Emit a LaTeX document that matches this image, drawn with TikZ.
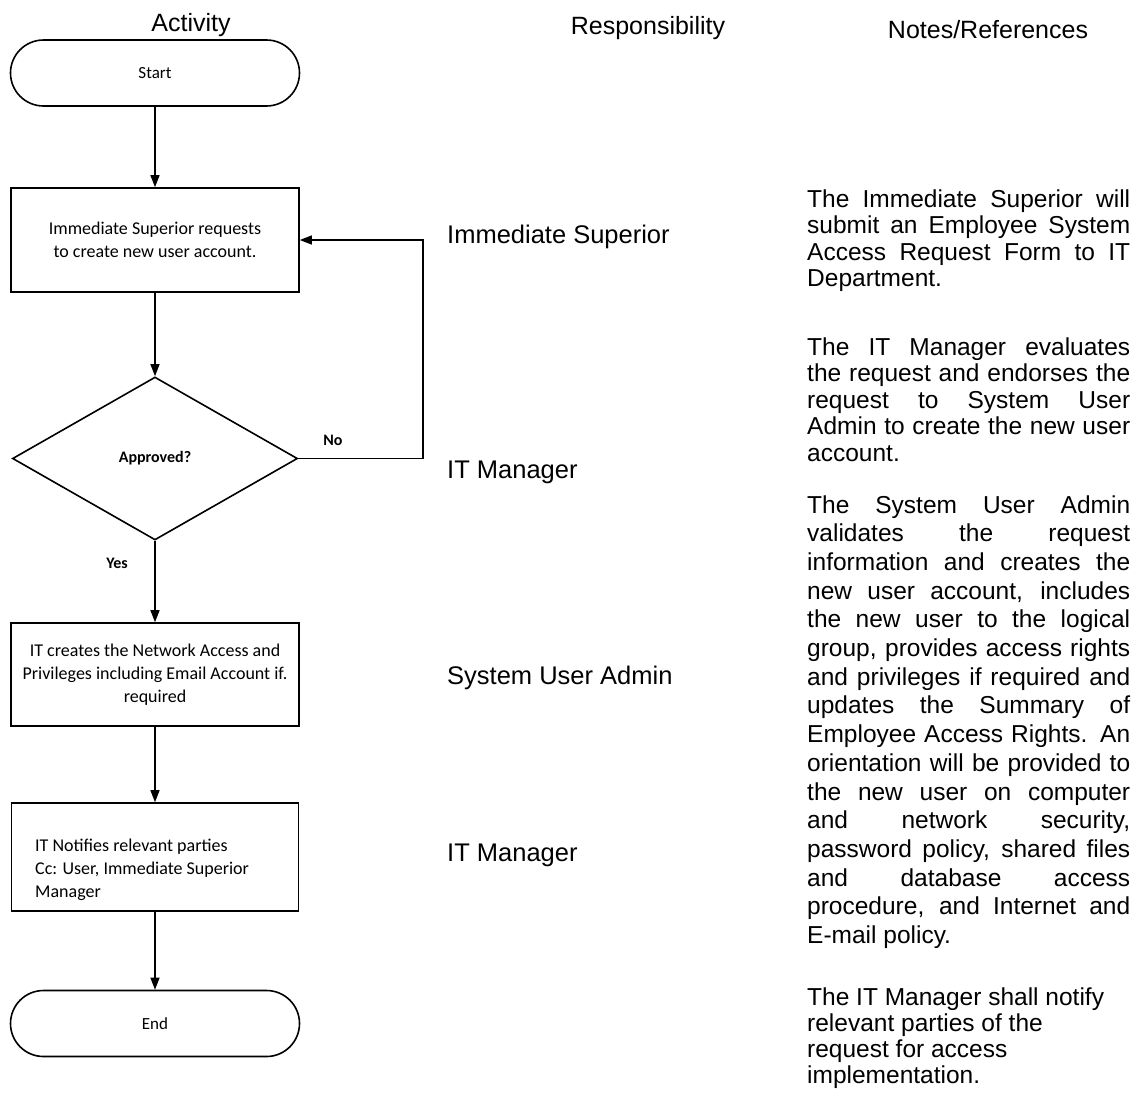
\documentclass[tikz,border=0pt]{standalone}
\usepackage{fontspec}
\setmainfont{Liberation Sans}
\newfontfamily\calfont{Carlito}
\usetikzlibrary{arrows.meta,shapes.geometric}
\newcommand\jl[1]{\hbox to 323pt{#1}}
\newcommand\rl[1]{\hbox{#1}}
\begin{document}
\begin{tikzpicture}[x=1pt,y=-1pt,
  flow/.style={draw, line width=1.6pt, inner sep=0pt, font=\calfont\fontsize{18}{23}\selectfont, align=center},
  term/.style={flow, rounded corners=33pt, minimum width=289pt, minimum height=66pt, font=\calfont\fontsize{17}{20}\selectfont},
  procbox/.style={flow, rectangle, minimum width=288pt},
  decision/.style={flow, diamond, minimum width=285pt, minimum height=163pt, font=\calfont\bfseries\fontsize{16}{19}\selectfont},
  conn/.style={draw, line width=1.2pt, -{Triangle[length=12pt,width=9pt]}},
  header/.style={font=\fontsize{25}{28}\selectfont, anchor=base, inner sep=0pt},
  resp/.style={font=\fontsize{25.5}{28}\selectfont, anchor=base west, inner sep=0pt},
  note/.style={anchor=base west, inner sep=0pt, font=\fontsize{24.5}{26.5}\selectfont},
  flag/.style={font=\calfont\bfseries\fontsize{16}{19}\selectfont, inner sep=0pt}
]
\useasboundingbox[fill=white] (0,0) rectangle (1140,1103);

% headers
\node[header] (hact) at (191,31) {Activity};
\node[header] (hresp) at (648,34) {Responsibility};
\node[header] (hnotes) at (988,38) {Notes/References};

% flow
\node[term] (start) at (155,73) {Start};
\node[procbox, minimum height=104pt] (box1) at (155,240) {Immediate Superior requests\\to create new user account.};
\node[decision] (dia) at (155,458.5) {Approved?};
\node[procbox, minimum height=103pt] (box2) at (155,674.5) {IT creates the Network Access and\\Privileges including Email Account if.\\required};
\node[procbox, minimum height=108pt, minimum width=287pt] (box3) at (155,857) {};
\node[anchor=base west, inner sep=0pt, font=\calfont\fontsize{18}{23}\selectfont] (box3t) at (35,851) {\vtop{\baselineskip=23pt
\hbox{IT Notifies relevant parties}
\hbox{Cc: User, Immediate Superior}
\hbox{Manager}}};
\node[term] (end) at (155,1023.5) {End};

\node[flag] (nolab) at (333,440) {No};
\node[flag] (yeslab) at (117,563) {Yes};

\draw[conn] (start) -- (box1);
\draw[conn] (box1) -- (dia);
\draw[conn] (dia) -- (box2);
\draw[conn] (box2) -- (box3);
\draw[conn] (box3) -- (end);
\coordinate (loopc) at (423,458.5);
\draw[conn] (dia.east) -- (loopc) |- (box1.east);

% responsibility
\node[resp] (r1) at (447,243) {Immediate Superior};
\node[resp] (r2) at (447,478) {IT Manager};
\node[resp] (r3) at (447,684) {System User Admin};
\node[resp] (r4) at (447,861) {IT Manager};

% notes
\node[note] (n1) at (807,207) {\vtop{\baselineskip=26.5pt
\jl{The Immediate Superior will}
\jl{submit an Employee System}
\jl{Access Request Form to IT}
\rl{Department.}}};
\node[note] (n2) at (807,355) {\vtop{\baselineskip=26.5pt
\jl{The IT Manager evaluates}
\jl{the request and endorses the}
\jl{request to System User}
\jl{Admin to create the new user}
\rl{account.}}};
\node[note] (n3) at (807,513) {\vtop{\baselineskip=28.7pt
\jl{The System User Admin}
\jl{validates the request}
\jl{information and creates the}
\jl{new user account, includes}
\jl{the new user to the logical}
\jl{group, provides access rights}
\jl{and privileges if required and}
\jl{updates the Summary of}
\jl{Employee Access Rights. An}
\jl{orientation will be provided to}
\jl{the new user on computer}
\jl{and network security,}
\jl{password policy, shared files}
\jl{and database access}
\jl{procedure, and Internet and}
\rl{E-mail policy.}}};
\node[note] (n4) at (807,1005) {\vtop{\baselineskip=26pt
\rl{The IT Manager shall notify}
\rl{relevant parties of the}
\rl{request for access}
\rl{implementation.}}};
\end{tikzpicture}
\end{document}
